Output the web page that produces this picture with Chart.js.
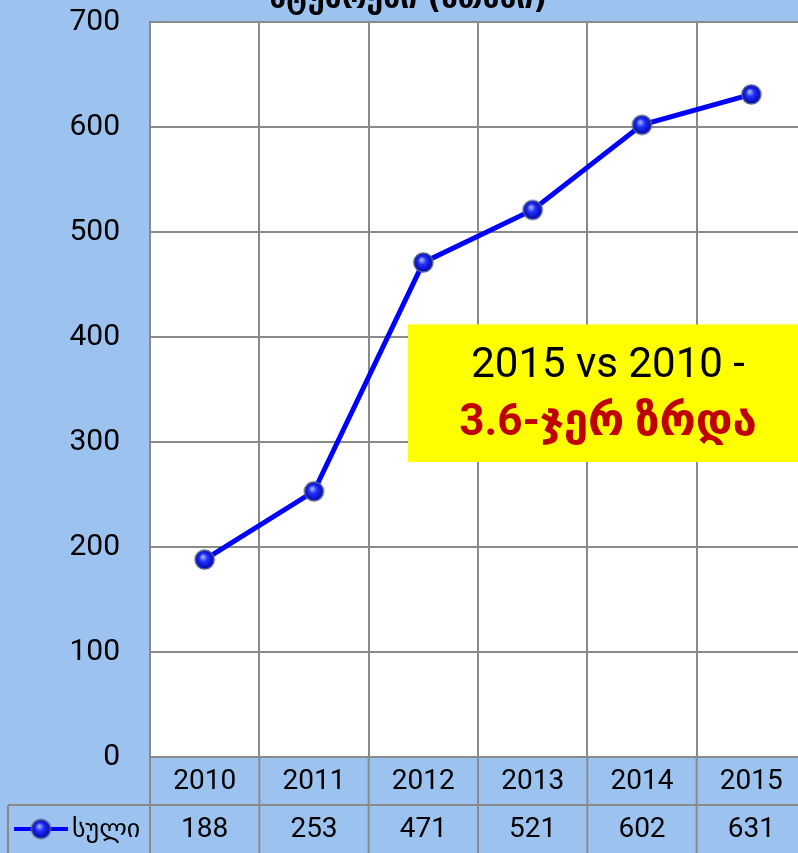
<!DOCTYPE html>
<html>
<head>
<meta charset="utf-8">
<script src="https://cdn.jsdelivr.net/npm/chart.js@4"></script>
<style>
  html, body { margin: 0; padding: 0; overflow: hidden; background: #9cc2ef; }
  #chart { position: absolute; left: 0; top: 0; }
</style>
</head>
<body>
<canvas id="chart" width="806" height="853"></canvas>
<script>
const years = ['2010', '2011', '2012', '2013', '2014', '2015'];
const values = [188, 253, 471, 521, 602, 631];
const seriesName = 'სული';
const titleText = 'სტუმრები (ათასი)';
const noteLine1 = '2015 vs 2010 -';
const noteLine2 = '3.6-ჯერ ზრდა';

const bgBlue = '#9cc2ef';
const gridGray = '#8a8a8a';
const lineBlue = '#0000ff';

// little blue "ball" used as the point marker
function makeBall(size) {
    const c = document.createElement('canvas');
    c.width = size; c.height = size;
    const g = c.getContext('2d');
    const r = size / 2 - 2;
    const grad = g.createRadialGradient(size * 0.42, size * 0.38, 1, size / 2, size / 2, r);
    grad.addColorStop(0, '#9aa8ff');
    grad.addColorStop(0.35, '#2233ff');
    grad.addColorStop(1, '#0000a8');
    g.beginPath();
    g.arc(size / 2, size / 2, r, 0, Math.PI * 2);
    g.fillStyle = grad;
    g.fill();
    g.lineWidth = 1.5;
    g.strokeStyle = '#52648f';
    g.stroke();
    return c;
}
const ball = makeBall(23);

const sheetPlugin = {
    id: 'sheet',
    beforeDraw(chart) {
        const { ctx, chartArea: a } = chart;
        ctx.save();
        ctx.fillStyle = bgBlue;
        ctx.fillRect(0, 0, chart.width, chart.height);
        ctx.fillStyle = '#ffffff';
        ctx.fillRect(a.left, a.top, a.right - a.left, a.bottom - a.top);
        ctx.restore();
    },
    beforeDatasetsDraw(chart) {
        const { ctx, scales: { x, y } } = chart;
        // yellow note box
        const left = x.getPixelForValue(1.86);
        const top = y.getPixelForValue(412);
        const bottom = y.getPixelForValue(281);
        ctx.save();
        ctx.fillStyle = '#ffff00';
        ctx.fillRect(left, top, chart.width - left, bottom - top);
        const cx = left + 200;
        ctx.textAlign = 'center';
        ctx.textBaseline = 'middle';
        ctx.fillStyle = '#000000';
        ctx.font = '42px Roboto, "DejaVu Sans"';
        ctx.fillText(noteLine1, cx, top + 42);
        ctx.fillStyle = '#c00000';
        ctx.font = 'bold 44px Roboto, "DejaVu Sans"';
        ctx.fillText(noteLine2, cx, top + 100);
        ctx.restore();
    },
    afterDraw(chart) {
        const { ctx, chartArea: a, scales: { x } } = chart;
        const row1 = a.bottom + 48;
        const h = chart.height;
        ctx.save();
        ctx.strokeStyle = gridGray;
        ctx.lineWidth = 2;
        ctx.beginPath();
        for (let i = 0; i <= years.length; i++) {
            const px = x.getPixelForValue(i - 0.5);
            ctx.moveTo(px, a.bottom);
            ctx.lineTo(px, h);
        }
        ctx.moveTo(8, row1);
        ctx.lineTo(chart.width, row1);
        ctx.moveTo(8, row1);
        ctx.lineTo(8, h);
        ctx.moveTo(a.left - 1, a.bottom);
        ctx.lineTo(chart.width, a.bottom);
        ctx.stroke();

        ctx.fillStyle = '#000000';
        ctx.textAlign = 'center';
        ctx.textBaseline = 'middle';
        ctx.font = '28px Roboto';
        years.forEach((yr, i) => {
            const px = x.getPixelForValue(i);
            ctx.fillText(yr, px, a.bottom + 25);
            ctx.fillText(String(values[i]), px, row1 + 25);
        });

        // legend key inside the table
        const ly = row1 + 24;
        ctx.strokeStyle = lineBlue;
        ctx.lineWidth = 4;
        ctx.beginPath();
        ctx.moveTo(14, ly);
        ctx.lineTo(68, ly);
        ctx.stroke();
        ctx.drawImage(ball, 41 - ball.width / 2, ly - ball.height / 2);
        ctx.textAlign = 'left';
        ctx.font = '26px "DejaVu Sans"';
        ctx.fillText(seriesName, 72, ly + 1);

        // title, mostly cut off by the top edge
        ctx.textAlign = 'center';
        ctx.textBaseline = 'alphabetic';
        ctx.font = 'bold 30px "DejaVu Sans"';
        ctx.fillText(titleText, 408, 8);
        ctx.restore();
    }
};

new Chart(document.getElementById('chart'), {
    type: 'line',
    data: {
        labels: years,
        datasets: [{
            label: seriesName,
            data: values,
            borderColor: lineBlue,
            borderWidth: 5,
            pointStyle: ball,
            pointRadius: 11,
            pointHoverRadius: 11,
            tension: 0
        }]
    },
    options: {
        responsive: false,
        animation: false,
        layout: { autoPadding: false, padding: { top: 22, left: 0, right: 0, bottom: 0 } },
        plugins: {
            legend: { display: false },
            tooltip: { enabled: false }
        },
        scales: {
            x: {
                offset: true,
                grid: { offset: true, color: gridGray, lineWidth: 2, drawTicks: false },
                border: { display: false },
                ticks: { display: false },
                afterFit(scale) { scale.height = 96; }
            },
            y: {
                min: 0,
                max: 700,
                ticks: {
                    stepSize: 100,
                    color: '#000000',
                    padding: 30,
                    font: { family: 'Roboto', size: 30 }
                },
                grid: { color: gridGray, lineWidth: 2, drawTicks: false },
                border: { color: gridGray, width: 2 },
                afterFit(scale) {
                    // tick padding otherwise pushes the plot top down
                    scale.width = 150;
                    scale.paddingTop = 0;
                    scale.paddingBottom = 0;
                }
            }
        }
    },
    plugins: [sheetPlugin]
});
</script>
</body>
</html>
